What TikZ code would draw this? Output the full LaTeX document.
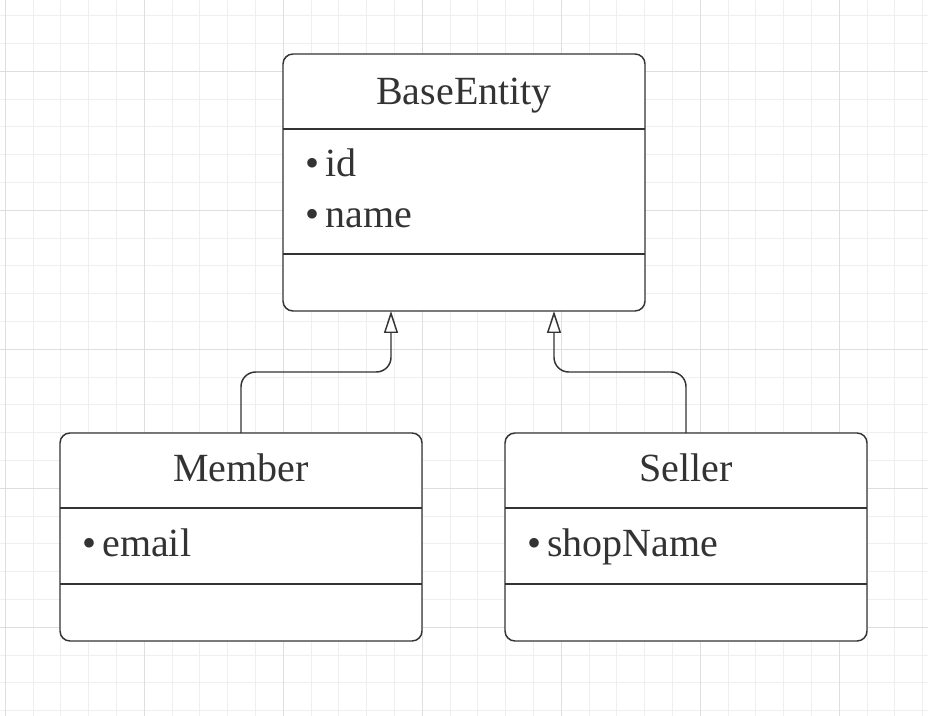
\documentclass[tikz,border=0pt]{standalone}
\usepackage{fontspec}
\setmainfont{Liberation Serif}
\usetikzlibrary{arrows.meta, positioning}
\definecolor{umlink}{HTML}{333333}
\definecolor{gridminor}{HTML}{EFEFEF}
\definecolor{gridmajor}{HTML}{DEDEDE}
\tikzstyle{classbox}=[draw=umlink,fill=white,rectangle,rounded corners=7.5pt,line width=1.1pt,minimum width=271.5pt,inner sep=0pt,outer sep=0pt]
\tikzstyle{every node}=[font=\fontsize{30pt}{36pt}\selectfont,text=umlink]
\tikzstyle{classname}=[anchor=base,inner sep=0pt]
\tikzstyle{attr}=[anchor=base west,inner sep=0pt]
\tikzstyle{divider}=[draw=umlink,line width=1.1pt]
\tikzstyle{inherit}=[draw=umlink,line width=1.1pt,rounded corners=11pt,-{Triangle[open,length=16.5pt,width=10.5pt]}]
\newcommand{\attrtext}[1]{\mbox{•\hspace{4.5pt}#1}}

\begin{document}
\begin{tikzpicture}[x=0.75pt,y=-0.75pt]
    \useasboundingbox (0,0) rectangle (928,716);
    \fill[white] (0,0) rectangle (928,716);
    \foreach \i in {0,...,33} \draw[gridminor,line width=0.75pt] ({5.3+27.8*\i},0) -- ++(0,716);
    \foreach \i in {0,...,25} \draw[gridminor,line width=0.75pt] (0,{15.7+27.8*\i}) -- ++(928,0);
    \foreach \i in {0,...,6} \draw[gridmajor,line width=0.75pt] ({5.3+139*\i},0) -- ++(0,716);
    \foreach \i in {0,...,4} \draw[gridmajor,line width=0.75pt] (0,{71.3+139*\i}) -- ++(928,0);

    \node[classbox, minimum height=192.75pt] (base) at (464,182.5) {};
    \node[classbox, minimum height=156pt] (member) at (241,537) {};
    \node[classbox, minimum height=156pt] (seller) at (686,537) {};

    \node[classname] (basetitle) at ([yshift=-37.75pt]base.north) {BaseEntity};
    \node[classname] (membertitle) at ([yshift=-36.5pt]member.north) {Member};
    \node[classname] (sellertitle) at ([yshift=-36.5pt]seller.north) {Seller};

    \node[attr] (baseid) at ([xshift=16.5pt, yshift=-92.25pt]base.north west) {\attrtext{id}};
    \node[attr] (basename) at ([xshift=16.5pt, yshift=-130.5pt]base.north west) {\attrtext{name}};
    \node[attr] (memberemail) at ([xshift=16.5pt, yshift=-92.25pt]member.north west) {\attrtext{email}};
    \node[attr] (sellershop) at ([xshift=16.5pt, yshift=-92.25pt]seller.north west) {\attrtext{shopName}};

    \draw[divider] ([yshift=-56.25pt]base.north west) -- ([yshift=-56.25pt]base.north east);
    \draw[divider] ([yshift=-150pt]base.north west) -- ([yshift=-150pt]base.north east);
    \draw[divider] ([yshift=-56.25pt]member.north west) -- ([yshift=-56.25pt]member.north east);
    \draw[divider] ([yshift=-113.25pt]member.north west) -- ([yshift=-113.25pt]member.north east);
    \draw[divider] ([yshift=-56.25pt]seller.north west) -- ([yshift=-56.25pt]seller.north east);
    \draw[divider] ([yshift=-113.25pt]seller.north west) -- ([yshift=-113.25pt]seller.north east);

    \coordinate (basein1) at ([xshift=-54.75pt]base.south);
    \coordinate (basein2) at ([xshift=67.5pt]base.south);
    \coordinate (bend) at (0,372);
    \draw[inherit] (member.north) |- (bend -| basein1) -- (basein1);
    \draw[inherit] (seller.north) |- (bend -| basein2) -- (basein2);
\end{tikzpicture}
\end{document}
